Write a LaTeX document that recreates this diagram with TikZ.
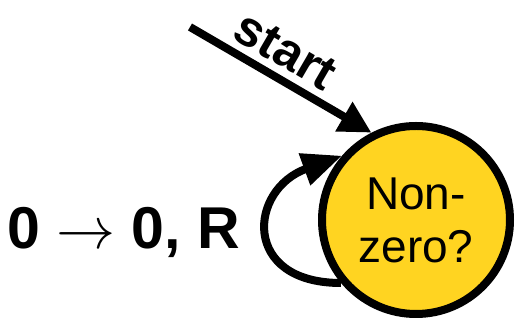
\RequirePackage{fix-cm}
\documentclass[tikz,border=0pt]{standalone}
\usepackage{fontspec}
\setmainfont{Liberation Sans}
\usetikzlibrary{arrows.meta,positioning}
\definecolor{stateyellow}{rgb}{1,.83,.13}

\begin{document}
\begin{tikzpicture}[x=1pt,y=1pt,line width=8pt,>={Triangle[length=32pt,width=32pt]}]
\useasboundingbox (0,0) rectangle (520,320);
\node[circle,draw,fill=stateyellow,minimum size=188pt,inner sep=0pt,align=center,font=\fontsize{46}{53}\selectfont] (q) at (416,100) {Non-\\zero?};
\coordinate (s) at (190,293);
\draw[->] (s) -- node[pos=.45,above=7pt,sloped,inner sep=0pt,font=\bfseries\fontsize{50}{50}\selectfont] (start) {start} (q.117);
\draw[-{Triangle[length=40pt,width=32pt]}] (q.220) to[out=180,in=200,looseness=2] node[pos=.5,left=25pt,inner sep=0pt,font=\bfseries\fontsize{59}{59}\selectfont] (lbl) {0 $\rightarrow$ 0, R} (q.139);
\end{tikzpicture}
\end{document}
